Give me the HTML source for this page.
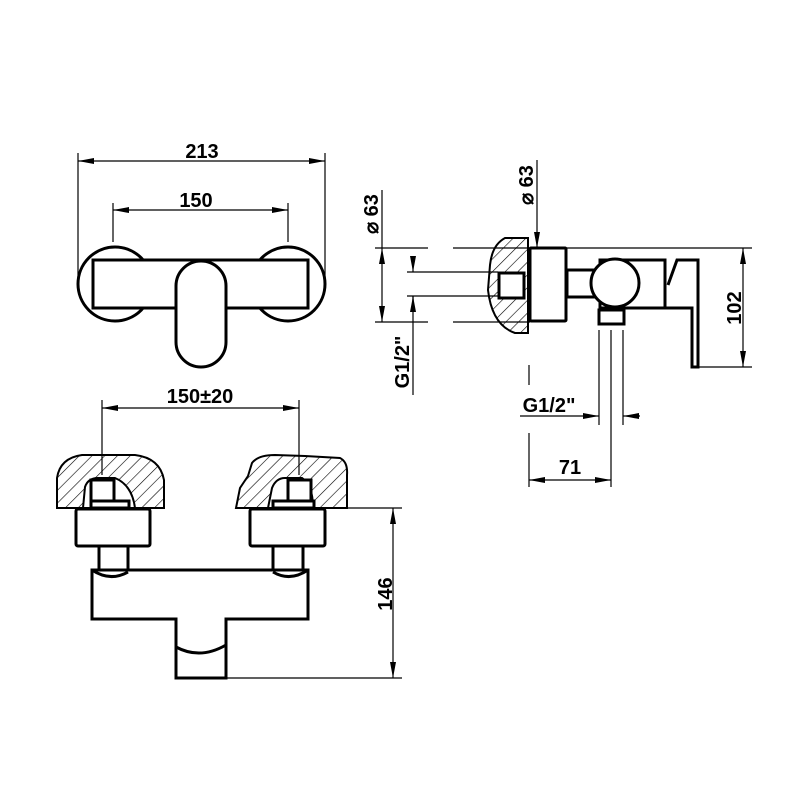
<!DOCTYPE html>
<html><head><meta charset="utf-8"><style>
html,body{margin:0;padding:0;background:#fff}
svg{display:block}
text{font-family:"Liberation Sans",Arial,sans-serif;font-weight:bold;font-size:20px;fill:#000}
</style></head><body>
<svg width="800" height="800" viewBox="0 0 800 800" xmlns="http://www.w3.org/2000/svg">
<defs>
<pattern id="h" patternUnits="userSpaceOnUse" width="9" height="9" patternTransform="rotate(45)">
<line x1="0" y1="0" x2="0" y2="9" stroke="#000" stroke-width="1.2"/>
</pattern>
<marker id="a" viewBox="0 0 16 6" refX="16" refY="3" markerWidth="16" markerHeight="6" markerUnits="userSpaceOnUse" orient="auto-start-reverse">
<path d="M0,0 L16,3 L0,6 z" fill="#000"/>
</marker>
</defs>
<g stroke="#000" fill="none">
<g stroke-width="1.2">
<line x1="78" y1="153" x2="78" y2="285"/><line x1="325" y1="153" x2="325" y2="285"/>
<line x1="78" y1="161" x2="325" y2="161" marker-start="url(#a)" marker-end="url(#a)"/>
<line x1="113" y1="203" x2="113" y2="242"/><line x1="288" y1="203" x2="288" y2="242"/>
<line x1="113" y1="210" x2="288" y2="210" marker-start="url(#a)" marker-end="url(#a)"/>
</g>
<g stroke-width="3">
<circle cx="115" cy="284" r="37"/><circle cx="288" cy="284" r="37"/>
<rect x="93" y="260" width="215" height="48" fill="#fff"/>
<rect x="176" y="261" width="50" height="106" rx="25" fill="#fff"/>
</g>
<g stroke-width="1.2">
<line x1="102" y1="400" x2="102" y2="475"/><line x1="299" y1="400" x2="299" y2="475"/>
<line x1="102" y1="408" x2="299" y2="408" marker-start="url(#a)" marker-end="url(#a)"/>
<line x1="325" y1="508" x2="402" y2="508"/><line x1="226" y1="678" x2="402" y2="678"/>
<line x1="393" y1="508" x2="393" y2="678" marker-start="url(#a)" marker-end="url(#a)"/>
</g>
<g stroke-width="2">
<path d="M57,508 L57,478 Q60,458 82,455 L135,455 Q160,458 164,480 L164,508 Z" fill="url(#h)"/>
<path d="M83,508 L85,487 Q88,478 98,478 L115,478 Q132,485 135,508 Z" fill="#fff"/>
<path d="M236,508 L240,488 L248,476 L252,463 Q258,455 275,455 L305,456 L340,458 Q348,462 347,475 L347,508 Z" fill="url(#h)"/>
<path d="M268,508 L272,488 Q276,478 285,478 L302,478 Q313,485 313,508 Z" fill="#fff"/>
</g>
<g stroke-width="3" fill="#fff">
<rect x="91" y="480" width="23" height="21"/><rect x="91" y="501" width="38" height="7"/>
<rect x="288" y="480" width="23" height="21"/><rect x="273" y="501" width="41" height="7"/>
<rect x="76" y="509" width="74" height="37" rx="2"/>
<rect x="250" y="509" width="75" height="37" rx="2"/>
<rect x="99" y="546" width="29" height="28"/><rect x="273" y="546" width="30" height="28"/>
<path d="M92,570 L308,570 L308,619 L226,619 L226,678 L176,678 L176,619 L92,619 Z"/>
<path d="M92,570 Q110,582 128,572 M273,572 Q290,582 308,570" fill="none"/>
<path d="M176,647 Q200,660 226,645" fill="none"/>
</g>
<g stroke-width="1.2">
<line x1="375" y1="248" x2="428" y2="248"/><line x1="453" y1="248" x2="530" y2="248"/>
<line x1="375" y1="322" x2="428" y2="322"/><line x1="453" y1="322" x2="530" y2="322"/>
<line x1="382" y1="248" x2="382" y2="322" marker-start="url(#a)" marker-end="url(#a)"/>
<line x1="382" y1="190" x2="382" y2="248"/>
<line x1="407" y1="272" x2="498" y2="272"/><line x1="407" y1="296" x2="498" y2="296"/>
<line x1="413" y1="256" x2="413" y2="272" marker-end="url(#a)"/>
<line x1="413" y1="312" x2="413" y2="296" marker-end="url(#a)"/>
<line x1="413" y1="296" x2="413" y2="395"/>
<line x1="537" y1="160" x2="537" y2="248" marker-end="url(#a)"/>
<line x1="566" y1="248" x2="752" y2="248"/><line x1="698" y1="367" x2="752" y2="367"/>
<line x1="743" y1="248" x2="743" y2="367" marker-start="url(#a)" marker-end="url(#a)"/>
<line x1="599" y1="330" x2="599" y2="425"/><line x1="611" y1="330" x2="611" y2="487"/><line x1="623" y1="330" x2="623" y2="425"/>
<line x1="520" y1="416" x2="599" y2="416" marker-end="url(#a)"/>
<line x1="640" y1="416" x2="623" y2="416" marker-end="url(#a)"/>
<line x1="529" y1="365" x2="529" y2="385"/><line x1="529" y1="433" x2="529" y2="487"/>
<line x1="529" y1="480" x2="611" y2="480" marker-start="url(#a)" marker-end="url(#a)"/>
</g>
<path d="M528,238 L505,238 Q492,245 490,265 L488,290 Q492,325 515,333 L528,333 Z" stroke-width="2" fill="url(#h)"/>
<g stroke-width="3" fill="#fff">
<rect x="499" y="273" width="25" height="25"/>
<rect x="530" y="248" width="36" height="73" rx="1"/>
<rect x="567" y="270" width="30" height="27"/>
<rect x="600" y="260" width="65" height="48"/>
<circle cx="615" cy="283" r="24"/>
<rect x="599" y="310" width="25" height="14"/>
<path d="M665,260 L665,308 L692,308 L692,367 L698,367 L698,260 L677,260 L668,285" />
</g>
</g>
<text x="202" y="158" text-anchor="middle">213</text>
<text x="196" y="207" text-anchor="middle">150</text>
<text x="200" y="403" text-anchor="middle">150±20</text>
<text transform="translate(392,594) rotate(-90)" text-anchor="middle">146</text>
<text transform="translate(378,214) rotate(-90)" text-anchor="middle">⌀ 63</text>
<text transform="translate(533,185) rotate(-90)" text-anchor="middle">⌀ 63</text>
<text transform="translate(409,362) rotate(-90)" text-anchor="middle">G1/2"</text>
<text x="549" y="412" text-anchor="middle">G1/2"</text>
<text x="570" y="474" text-anchor="middle">71</text>
<text transform="translate(741,308) rotate(-90)" text-anchor="middle">102</text>
</svg>
</body></html>
